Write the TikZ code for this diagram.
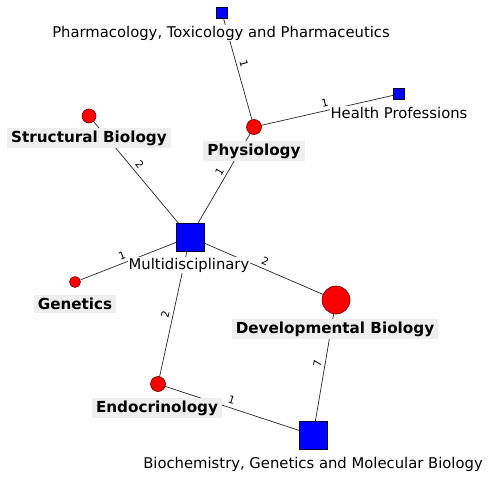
\documentclass[tikz,border=0pt]{standalone}
\usepackage{fontspec}
\setmainfont{DejaVu Sans}
\usetikzlibrary{backgrounds}
\definecolor{sqblue}{RGB}{0,0,255}
\definecolor{cired}{RGB}{255,0,0}
\definecolor{lblgrey}{RGB}{238,238,238}
\tikzset{
  sq/.style={draw=black!80!blue, fill=sqblue, line width=0.6pt, minimum size=#1, inner sep=0pt, rectangle},
  ci/.style={draw=black!60!red, fill=cired, line width=0.6pt, minimum size=#1, inner sep=0pt, circle},
  plainlbl/.style={fill=white, inner sep=1pt, font=\fontsize{14.8}{16}\selectfont},
  boldlbl/.style={fill=lblgrey, inner xsep=4pt, inner ysep=3pt, font=\fontsize{15.2}{17}\selectfont\bfseries},
  edge/.style={draw=black!85, line width=0.7pt, shorten >=6pt, shorten <=6pt},
  elbl/.style={font=\fontsize{10.5}{11}\selectfont, sloped, above=2.5pt, inner sep=1pt}
}
\begin{document}
\begin{tikzpicture}[x=1pt,y=-1pt]
\useasboundingbox (0,0) rectangle (490,479);
% shapes
\node[sq=11pt] (pharm) at (222,13) {};
\node[sq=11pt] (health) at (399,94) {};
\node[ci=15pt] (phys) at (254,127) {};
\node[ci=14pt] (struct) at (89,116) {};
\node[sq=28pt] (multi) at (190,237) {};
\node[ci=11pt] (genet) at (75,282) {};
\node[ci=28pt] (devel) at (336,300) {};
\node[ci=15pt] (endo) at (158,384) {};
\node[sq=28pt] (biochem) at (313,435) {};
% labels
\node[plainlbl] (pharmL) at (221,33) {Pharmacology, Toxicology and Pharmaceutics};
\node[plainlbl] (healthL) at (399,113) {Health Professions};
\node[boldlbl] (physL) at (254,151) {Physiology};
\node[boldlbl] (structL) at (89,138) {Structural Biology};
\node[plainlbl] (multiL) at (189,265) {Multidisciplinary};
\node[boldlbl] (genetL) at (75,304) {Genetics};
\node[boldlbl] (develL) at (335,329) {Developmental Biology};
\node[boldlbl] (endoL) at (157,408) {Endocrinology};
\node[plainlbl] (biochemL) at (313,464) {Biochemistry, Genetics and Molecular Biology};
% edges
\begin{scope}[on background layer]
\draw[edge] (pharm.center) -- (phys.center);
\draw[edge] (phys.center) -- (health.center);
\draw[edge] (struct.center) -- (multi.center);
\draw[edge] (phys.center) -- (multi.center);
\draw[edge] (multi.center) -- (genet.center);
\draw[edge] (multi.center) -- (devel.center);
\draw[edge] (multi.center) -- (endo.center);
\draw[edge] (devel.center) -- (biochem.center);
\draw[edge] (endo.center) -- (biochem.center);
\end{scope}
% edge labels
\path (pharm.center) -- node[elbl, pos=0.459] {1} (phys.center);
\path (phys.center) -- node[elbl, pos=0.5] {1} (health.center);
\path (struct.center) -- node[elbl, pos=0.444] {2} (multi.center);
\path (phys.center) -- node[elbl, pos=0.438] {1} (multi.center);
\path (multi.center) -- node[elbl, pos=0.567] {1} (genet.center);
\path (multi.center) -- node[elbl, pos=0.494] {2} (devel.center);
\path (multi.center) -- node[elbl, pos=0.54] {2} (endo.center);
\path (devel.center) -- node[elbl, pos=0.482] {7} (biochem.center);
\path (endo.center) -- node[elbl, pos=0.46] {1} (biochem.center);
\end{tikzpicture}
\end{document}
